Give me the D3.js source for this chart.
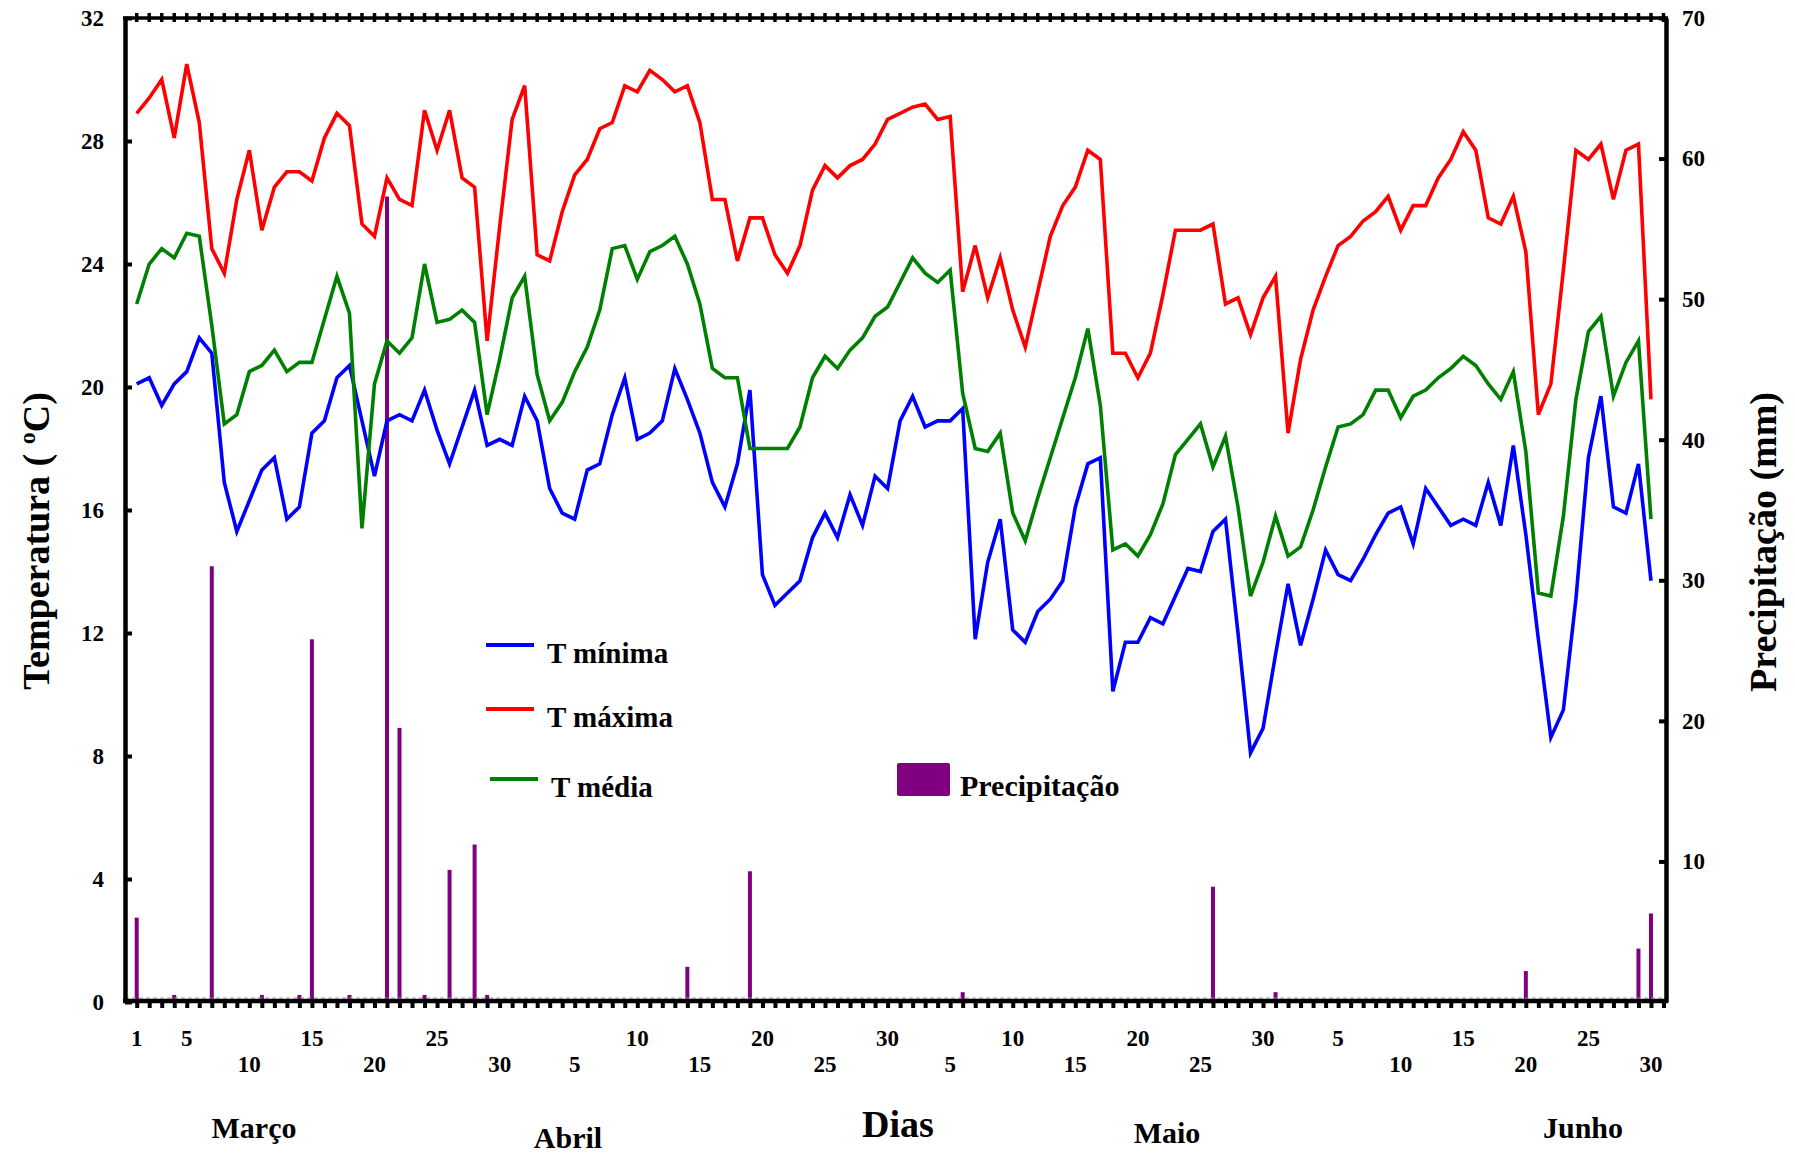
<!DOCTYPE html>
<html>
<head>
<meta charset="utf-8">
<script src="https://cdn.jsdelivr.net/npm/d3@7"></script>
<style>
  body { margin: 0; background: #fff; }
  svg text { font-family: "Liberation Serif", "Times New Roman", serif; font-weight: bold; fill: #000; }
</style>
</head>
<body>
<svg id="chart" width="1795" height="1154"></svg>
<script>
// daily values, 1 March .. 30 June (122 days)
const tMax = [
  28.9, 29.4, 30.0, 28.1, 30.5, 28.6, 24.5, 23.7, 26.1, 27.7,
  25.1, 26.5, 27.0, 27.0, 26.7, 28.1, 28.9, 28.5, 25.3, 24.9,
  26.8, 26.1, 25.9, 29.0, 27.7, 29.0, 26.8, 26.5, 21.5, 25.2,
  28.7,
  29.8, 24.3, 24.1, 25.7, 26.9, 27.4, 28.4, 28.6, 29.8, 29.6,
  30.3, 30.0, 29.6, 29.8, 28.6, 26.1, 26.1, 24.1, 25.5, 25.5,
  24.3, 23.7, 24.6, 26.4, 27.2, 26.8, 27.2, 27.4, 27.9, 28.7,
  28.9, 29.1, 29.2, 28.7, 28.8, 23.1, 24.6, 22.9, 24.2, 22.5,
  21.3, 23.1, 24.9, 25.9, 26.5, 27.7, 27.4, 21.1, 21.1, 20.3,
  21.1, 23.0, 25.1, 25.1, 25.1, 25.3, 22.7, 22.9, 21.7, 22.9,
  23.6,
  18.5, 20.9, 22.5, 23.6, 24.6, 24.9, 25.4, 25.7, 26.2, 25.1,
  25.9, 25.9, 26.8, 27.4, 28.3, 27.7, 25.5, 25.3, 26.2, 24.4,
  19.1, 20.1, 23.8, 27.7, 27.4, 27.9, 26.1, 27.7, 27.9, 19.6
];

const tMed = [
  22.7, 24.0, 24.5, 24.2, 25.0, 24.9, 22.0, 18.8, 19.1, 20.5,
  20.7, 21.2, 20.5, 20.8, 20.8, 22.2, 23.6, 22.4, 15.4, 20.1,
  21.5, 21.1, 21.6, 24.0, 22.1, 22.2, 22.5, 22.1, 19.1, 20.9,
  22.9,
  23.6, 20.4, 18.9, 19.5, 20.5, 21.3, 22.5, 24.5, 24.6, 23.5,
  24.4, 24.6, 24.9, 24.0, 22.7, 20.6, 20.3, 20.3, 18.0, 18.0,
  18.0, 18.0, 18.7, 20.3, 21.0, 20.6, 21.2, 21.6, 22.3, 22.6,
  23.4, 24.2, 23.7, 23.4, 23.8, 19.8, 18.0, 17.9, 18.5, 15.9,
  15.0, 16.4, 17.7, 19.0, 20.3, 21.9, 19.4, 14.7, 14.9, 14.5,
  15.2, 16.2, 17.8, 18.3, 18.8, 17.4, 18.4, 16.1, 13.2, 14.3,
  15.8,
  14.5, 14.8, 16.0, 17.4, 18.7, 18.8, 19.1, 19.9, 19.9, 19.0,
  19.7, 19.9, 20.3, 20.6, 21.0, 20.7, 20.1, 19.6, 20.5, 17.9,
  13.3, 13.2, 15.8, 19.6, 21.8, 22.3, 19.7, 20.8, 21.5, 15.7
];

const tMin = [
  20.1, 20.3, 19.4, 20.1, 20.5, 21.6, 21.1, 16.9, 15.3, 16.3,
  17.3, 17.7, 15.7, 16.1, 18.5, 18.9, 20.3, 20.7, 18.9, 17.1,
  18.9, 19.1, 18.9, 19.9, 18.6, 17.5, 18.7, 19.9, 18.1, 18.3,
  18.1,
  19.7, 18.9, 16.7, 15.9, 15.7, 17.3, 17.5, 19.1, 20.3, 18.3,
  18.5, 18.9, 20.6, 19.6, 18.5, 16.9, 16.1, 17.5, 19.9, 13.9,
  12.9, 13.3, 13.7, 15.1, 15.9, 15.1, 16.5, 15.5, 17.1, 16.7,
  18.9, 19.7, 18.7, 18.9, 18.9, 19.3, 11.8, 14.3, 15.7, 12.1,
  11.7, 12.7, 13.1, 13.7, 16.1, 17.5, 17.7, 10.1, 11.7, 11.7,
  12.5, 12.3, 13.2, 14.1, 14.0, 15.3, 15.7, 12.0, 8.1, 8.9,
  11.3,
  13.6, 11.6, 13.1, 14.7, 13.9, 13.7, 14.4, 15.2, 15.9, 16.1,
  14.9, 16.7, 16.1, 15.5, 15.7, 15.5, 16.9, 15.5, 18.1, 15.2,
  11.8, 8.6, 9.5, 13.1, 17.7, 19.7, 16.1, 15.9, 17.5, 13.7
];

// rainy days only: day index and mm
const rainDays = [1, 4, 7, 11, 14, 15, 18, 21, 22, 24, 26, 28, 29, 45, 50, 67, 87, 92, 112, 121, 122];
const rainMm   = [6.0, 0.5, 31.0, 0.5, 0.5, 25.8, 0.5, 57.3, 19.5, 0.5, 9.4, 11.2, 0.5, 2.5, 9.3, 0.7, 8.2, 0.7, 2.2, 3.8, 6.3];

const monthNames = ['Março', 'Abril', 'Maio', 'Junho'];
const monthStart = [0, 31, 61, 92];
const dayLabels = [
  [1, 5, 10, 15, 20, 25, 30],
  [5, 10, 15, 20, 25, 30],
  [5, 10, 15, 20, 25, 30],
  [5, 10, 15, 20, 25, 30]
];
// day indexes whose label sits on the second row
const lowerRow = [10, 20, 30, 36, 46, 56, 66, 76, 86, 102, 112, 122];

const tempTicks = [0, 4, 8, 12, 16, 20, 24, 28, 32];
const rainTicks = [10, 20, 30, 40, 50, 60, 70];

const colorMin = '#0000ff';
const colorMax = '#ff0000';
const colorMed = '#008000';
const colorRain = '#800080';

const svg = d3.select('#chart');

const plotLeft = 125, plotRight = 1666, plotTop = 18, plotBottom = 1002;

const days = d3.range(1, tMax.length + 1);

const x = d3.scaleLinear().domain([0.065, 123.2]).range([plotLeft, plotRight]);
const yT = d3.scaleLinear().domain([0, 32]).range([plotBottom, plotTop]);
const yP = d3.scaleLinear().domain([0, 70]).range([plotBottom, plotTop]);

// precipitation bars
svg.append('g')
  .selectAll('rect')
  .data(rainDays)
  .enter()
  .append('rect')
  .attr('x', (d) => x(d) - 2)
  .attr('width', 4)
  .attr('y', (d, i) => yP(rainMm[i]))
  .attr('height', (d, i) => yP(0) - yP(rainMm[i]))
  .attr('fill', colorRain);

// dashed zero line of the bars
svg.append('line')
  .attr('x1', plotLeft).attr('x2', plotRight)
  .attr('y1', plotBottom - 4).attr('y2', plotBottom - 4)
  .attr('stroke', '#999')
  .attr('stroke-width', 1.2)
  .attr('stroke-dasharray', '4,3');

// temperature lines
const line = (series) => d3.line()
  .x((d) => x(d))
  .y((d, i) => yT(series[i]))(days);

[[tMin, colorMin], [tMax, colorMax], [tMed, colorMed]].forEach(function (s) {
  svg.append('path')
    .attr('d', line(s[0]))
    .attr('fill', 'none')
    .attr('stroke', s[1])
    .attr('stroke-width', 3.6)
    .attr('stroke-linejoin', 'miter');
});

// left axis
const leftAxis = svg.append('g')
  .attr('transform', 'translate(' + plotLeft + ',0)')
  .call(d3.axisLeft(yT).tickValues(tempTicks).tickSizeInner(-7).tickSizeOuter(0).tickPadding(21));

// right axis
const rightAxis = svg.append('g')
  .attr('transform', 'translate(' + plotRight + ',0)')
  .call(d3.axisRight(yP).tickValues(rainTicks).tickSizeInner(-7).tickSizeOuter(0).tickPadding(16));

[leftAxis, rightAxis].forEach(function (g) {
  g.select('.domain').attr('stroke-width', 4.5).attr('stroke', '#000');
  g.selectAll('.tick line').attr('stroke-width', 4).attr('stroke', '#000');
  g.selectAll('.tick text')
    .style('font-size', '23px')
    .style('font-family', '"Liberation Serif", serif')
    .style('font-weight', 'bold')
    .attr('fill', '#000');
});

// bottom axis: a tick every day
const dayTicks = d3.range(1, 124);
const bottomAxis = svg.append('g')
  .attr('transform', 'translate(0,' + (plotBottom - 1) + ')')
  .call(d3.axisBottom(x).tickValues(dayTicks).tickSizeInner(7).tickSizeOuter(0).tickFormat(''));
bottomAxis.select('.domain').attr('stroke-width', 4.5).attr('stroke', '#000')
  .attr('d', 'M' + (plotLeft - 2) + ',0H' + (plotRight + 2));
bottomAxis.selectAll('.tick line').attr('stroke-width', 4).attr('stroke', '#000');

// top frame with ticks on both sides
const topAxis = svg.append('g');
topAxis.append('line')
  .attr('x1', plotLeft - 2).attr('x2', plotRight + 2)
  .attr('y1', plotTop).attr('y2', plotTop)
  .attr('stroke', '#000').attr('stroke-width', 3.5);
topAxis.selectAll('line.tk')
  .data(dayTicks)
  .enter()
  .append('line')
  .attr('class', 'tk')
  .attr('x1', (d) => x(d)).attr('x2', (d) => x(d))
  .attr('y1', plotTop - 5).attr('y2', plotTop + 4)
  .attr('stroke', '#000').attr('stroke-width', 3.5);

// day labels in two rows
const labelData = [];
dayLabels.forEach(function (list, m) {
  list.forEach(function (d) {
    labelData.push({ day: monthStart[m] + d, text: d });
  });
});

svg.append('g')
  .selectAll('text')
  .data(labelData)
  .enter()
  .append('text')
  .attr('x', (d) => x(d.day))
  .attr('y', (d) => lowerRow.indexOf(d.day) >= 0 ? 1072 : 1046)
  .attr('text-anchor', 'middle')
  .style('font-size', '23px')
  .text((d) => d.text);

// month names
const monthPos = [[254, 1138], [568, 1148], [1167, 1143], [1583, 1138]];
svg.append('g')
  .selectAll('text')
  .data(monthNames)
  .enter()
  .append('text')
  .attr('x', (d, i) => monthPos[i][0])
  .attr('y', (d, i) => monthPos[i][1])
  .attr('text-anchor', 'middle')
  .style('font-size', '30px')
  .text((d) => d);

svg.append('text')
  .attr('x', 898).attr('y', 1137)
  .attr('text-anchor', 'middle')
  .style('font-size', '38px')
  .text('Dias');

// axis titles
const yTitle = svg.append('text')
  .attr('transform', 'translate(49,541) rotate(-90)')
  .attr('text-anchor', 'middle')
  .style('font-size', '38px');
yTitle.append('tspan').text('Temperatura ( ');
yTitle.append('tspan').attr('dy', -14).style('font-size', '24px').text('o');
yTitle.append('tspan').attr('dy', 14).text('C)');

svg.append('text')
  .attr('transform', 'translate(1776,542) rotate(-90)')
  .attr('text-anchor', 'middle')
  .style('font-size', '38px')
  .text('Precipitação (mm)');

// legend
const legendLines = [
  { label: 'T mínima', color: colorMin, x: 486, y: 645 },
  { label: 'T máxima', color: colorMax, x: 486, y: 709 },
  { label: 'T média', color: colorMed, x: 490, y: 779 }
];

const legend = svg.append('g');
legendLines.forEach(function (d) {
  legend.append('line')
    .attr('x1', d.x).attr('x2', d.x + 48)
    .attr('y1', d.y).attr('y2', d.y)
    .attr('stroke', d.color).attr('stroke-width', 4);
  legend.append('text')
    .attr('x', d.x + 61).attr('y', d.y + 18)
    .style('font-size', '29px')
    .text(d.label);
});

legend.append('rect')
  .attr('x', 897).attr('y', 763)
  .attr('width', 53).attr('height', 33)
  .attr('rx', 2)
  .attr('fill', colorRain);
legend.append('text')
  .attr('x', 960).attr('y', 796)
  .style('font-size', '30px')
  .text('Precipitação');
</script>
</body>
</html>
